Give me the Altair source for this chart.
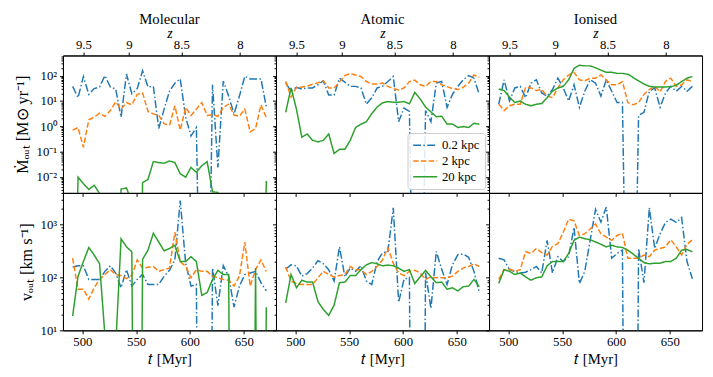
import altair as alt
import pandas as pd

FONT = "Liberation Serif"

time_myr = [491, 496, 501, 506, 511, 516, 521, 526, 531, 536, 541, 546, 551, 556, 561, 566,
            571, 576, 581, 586, 591, 596, 601, 606, 611, 616, 621, 626, 631, 636, 641, 646,
            651, 656, 661, 666, 671]

SERIES = ["0.2 kpc", "2 kpc", "20 kpc"]
PHASES = ["Molecular", "Atomic", "Ionised"]
COLORS = ["#1f77b4", "#ff7f0e", "#2ca02c"]
DASHES = [[8, 2.4, 1.5, 2.4], [5.5, 2.4], [1, 0]]

# mass outflow rates [Msun/yr]  (0 = no outflow, drawn off the log axis)
mdot_mol_02 = [38, 13.6, 93, 18.3, 31, 36, 101, 36, 30, 2.3, 117, 19.4, 31, 157, 36, 38, 0.82, 4.8, 24.5, 51, 75, 2.3, 0.42, 0.9, 0, 0, 44, 0.024, 61, 15.7, 3.1, 15.7, 95, 75, 75, 75, 5.8]
mdot_mol_2 = [0.71, 0.90, 0.149, 1.83, 2.3, 3.3, 2.5, 4.2, 9.3, 4.8, 8.7, 7.1, 18.3, 21, 3.9, 3.1, 2.7, 1.28, 1.1, 6.5, 0.71, 5.6, 2.7, 4.8, 8.7, 2.7, 2.9, 2.5, 5.6, 7.5, 2.8, 2.5, 4.8, 0.61, 0.82, 7.1, 2.2]
mdot_mol_20 = [0, 0.0098, 0.00545, 0.0032, 0.0047, 0.00224, 0, 0, 0, 0.0033, 0.0037, 0.001, 0, 0.0059, 0.008, 0.0406, 0.037, 0.035, 0.043, 0.037, 0.0132, 0.0098, 0.0238, 0.0153, 0.0276, 0.0406, 0.0026, 0.00245, 0, 0, 0, 0, 0, 0, 0, 0, 0.0069]

mdot_atom_02 = [51, 24.5, 35, 30, 33, 33, 44, 63, 17.2, 17.2, 80, 56, 38, 38, 33, 7.5, 13.6, 33, 38, 59, 93, 1.53, 5.3, 3.9, 0, 0, 4.2, 1.53, 51, 59, 5.6, 18.3, 38, 69, 101, 80, 18.3]
mdot_atom_2 = [61, 14.4, 34, 36, 39, 46, 53, 63, 33, 33, 56, 101, 121, 107, 93, 59, 47, 47, 51, 38, 31, 27.6, 33, 59, 67, 44, 38, 59, 59, 44, 37, 31, 28.4, 35, 51, 107, 85]
mdot_atom_20 = [3.6, 33, 4.8, 0.37, 0.5, 0.28, 0.245, 0.28, 0.5, 0.085, 0.124, 0.124, 0.28, 0.9, 1.21, 1.53, 3.2, 5.8, 8.5, 9.5, 9, 9, 9.5, 7.8, 21.8, 12.1, 5.8, 3.7, 2.4, 2.5, 1.24, 1.24, 0.9, 0.98, 0.9, 1.32, 1.21]

mdot_ion_02 = [7.5, 69, 10.1, 33, 38, 13.6, 51, 69, 21, 15.7, 28.4, 80, 33, 10.1, 44, 5.6, 24.5, 69, 51, 15.7, 69, 24.5, 8.7, 8.7, 0, 0, 2.7, 3.6, 24.5, 33, 5.6, 21, 38, 24.5, 38, 24.5, 38]
mdot_ion_2 = [7.5, 4.2, 6.5, 7.5, 7.5, 35, 33, 26, 28.4, 15.7, 13.6, 33, 69, 107, 136, 69, 63, 80, 80, 107, 69, 44, 44, 59, 8.7, 7.1, 8.7, 18.3, 28.4, 38, 23, 59, 80, 38, 44, 69, 59]
mdot_ion_20 = [30, 26, 14.4, 8.7, 10.1, 7.5, 6.5, 7.5, 8, 13.6, 24.5, 33, 38, 69, 194, 260, 245, 245, 206, 167, 136, 136, 124, 124, 114, 85, 63, 47, 38, 36, 36, 36, 37, 42, 59, 80, 93]

# outflow velocities [km/s]
v_mol_02 = [158, 167, 167, 92, 92, 92, 131, 167, 122, 64, 141, 69, 92, 114, 74, 74, 74, 106, 137, 216, 2860, 187, 69, 74, 0, 0, 151, 29.5, 167, 106, 27.5, 69, 114, 122, 131, 80, 56]
v_mol_2 = [232, 60, 60, 39, 64, 92, 114, 141, 114, 109, 95, 109, 216, 151, 156, 162, 131, 141, 151, 721, 201, 162, 99, 141, 131, 131, 106, 99, 92, 89, 69, 106, 471, 69, 141, 216, 131]
v_mol_20 = [18.7, 106, 201, 370, 267, 182, 8, 5, 5, 543, 381, 308, 0, 222, 330, 691, 471, 321, 355, 409, 201, 201, 248, 201, 46, 52, 92, 137, 114, 114, 0, 0, 0, 0, 151, 0, 27.5]

v_atom_02 = [145, 174, 167, 106, 119, 151, 209, 182, 141, 86, 381, 103, 151, 131, 167, 86, 74, 201, 295, 308, 2095, 34, 93, 100, 0, 0, 124, 26, 312, 143, 74, 174, 271, 278, 242, 131, 52]
v_atom_2 = [158, 86, 77, 74, 74, 74, 99, 131, 114, 103, 109, 114, 162, 141, 141, 114, 131, 162, 216, 370, 187, 122, 109, 131, 137, 122, 92, 103, 99, 99, 99, 106, 131, 151, 162, 182, 162]
v_atom_20 = [33, 114, 64, 89, 82, 82, 35, 24.8, 19.2, 30, 80, 82, 109, 109, 141, 174, 192, 182, 167, 172, 167, 151, 131, 141, 77, 103, 137, 103, 80, 82, 60, 64, 56, 67, 69, 92, 67]

v_ion_02 = [232, 216, 141, 131, 122, 126, 141, 162, 122, 506, 122, 248, 201, 248, 893, 77, 131, 506, 1950, 1122, 2160, 232, 286, 330, 0, 0, 355, 80, 2095, 355, 672, 1107, 1274, 1107, 1368, 201, 95]
v_ion_2 = [92, 141, 145, 131, 141, 308, 286, 355, 295, 267, 392, 439, 721, 1274, 1186, 626, 672, 832, 1030, 672, 583, 506, 626, 691, 232, 232, 232, 267, 248, 330, 355, 381, 520, 381, 267, 427, 520]
v_ion_20 = [77, 141, 131, 114, 122, 103, 89, 99, 103, 167, 201, 201, 201, 286, 506, 583, 543, 520, 471, 427, 381, 409, 381, 370, 330, 278, 232, 192, 182, 187, 187, 201, 201, 232, 330, 340, 308]

# redshift ticks of the top axis, placed at their cosmic time [Myr]
z_tick_labels = ["9.5", "9", "8.5", "8"]
z_tick_times = [501, 543.4, 592, 646.5]

t_ticks = [500, 550, 600, 650]

DATA = {
    ("mdot", "Molecular"): [mdot_mol_02, mdot_mol_2, mdot_mol_20],
    ("mdot", "Atomic"): [mdot_atom_02, mdot_atom_2, mdot_atom_20],
    ("mdot", "Ionised"): [mdot_ion_02, mdot_ion_2, mdot_ion_20],
    ("v", "Molecular"): [v_mol_02, v_mol_2, v_mol_20],
    ("v", "Atomic"): [v_atom_02, v_atom_2, v_atom_20],
    ("v", "Ionised"): [v_ion_02, v_ion_2, v_ion_20],
}

Y_DOMAIN = {"mdot": [2.34e-3, 631], "v": [10, 4000]}
Y_TITLE = {"mdot": "Ṁₒᵤₜ [M⊙ yr⁻¹]", "v": "vₒᵤₜ [km s⁻¹]"}
FLOOR = 1e-12  # zero values fall far below the axis and get clipped

W, H = 217, 140
X_DOMAIN = [482, 680]


def log_ticks(lo, hi):
    vals = []
    for k in range(-4, 5):
        for m in range(1, 10):
            v = m * 10.0 ** k
            if lo <= v <= hi:
                vals.append(v)
    return vals


L10 = "(log(datum.value)/LN10)"
IS_MAJOR = f"abs({L10} - round({L10})) < 0.001"
E = f"round({L10})"
SUP = {-3: "⁻³", -2: "⁻²", -1: "⁻¹", 0: "⁰", 1: "¹", 2: "²", 3: "³"}
label_expr = "''"
for k, s in SUP.items():
    label_expr = f"({E} == {k} ? '10{s}' : {label_expr})"
label_expr = f"{IS_MAJOR} ? {label_expr} : ''"

z_expr = "''"
for tv, lab in zip(z_tick_times, z_tick_labels):
    z_expr = f"(abs(datum.value - {tv}) < 0.01 ? '{lab}' : {z_expr})"


def panel(qty, phase, col):
    rows = []
    for name, vals in zip(SERIES, DATA[(qty, phase)]):
        for t, v in zip(time_myr, vals):
            rows.append({"t": t, "val": v if v > 0 else FLOOR, "series": name})
    df = pd.DataFrame(rows)

    xs = alt.Scale(domain=X_DOMAIN, nice=False, zero=False)
    ys = alt.Scale(type="log", domain=Y_DOMAIN[qty], nice=False)
    bottom = qty == "v"

    x_axis = alt.Axis(values=t_ticks, labels=bottom, title="𝑡 [Myr]" if bottom else None,
                      tickSize=3.5, format="d", labelPadding=2, titlePadding=3)
    y_axis = alt.Axis(values=log_ticks(*Y_DOMAIN[qty]), labelExpr=label_expr,
                      labels=(col == 0), title=Y_TITLE[qty] if col == 0 else None,
                      labelOverlap=False, labelFlush=False, labelPadding=3, titlePadding=6,
                      titleFontSize=16.5,
                      tickSize={"condition": {"test": IS_MAJOR, "value": 3.5}, "value": 2})

    show_leg = qty == "mdot" and phase == "Atomic"
    leg = alt.Legend(title=None, orient="bottom-right", offset=4, symbolType="stroke",
                     symbolSize=600, symbolStrokeWidth=1.5, labelFontSize=13, labelFont=FONT,
                     fillColor="rgba(255,255,255,0.85)", strokeColor="#cccccc", cornerRadius=3,
                     padding=5, rowPadding=1, clipHeight=15, labelLimit=0) if show_leg else None

    y_enc = alt.Y("val:Q", scale=ys, axis=y_axis)
    lines = alt.Chart(df).mark_line(clip=True, strokeWidth=1.5).encode(
        x=alt.X("t:Q", scale=xs, axis=x_axis),
        y=y_enc,
        color=alt.Color("series:N", scale=alt.Scale(domain=SERIES, range=COLORS), legend=leg),
        strokeDash=alt.StrokeDash("series:N", scale=alt.Scale(domain=SERIES, range=DASHES), legend=leg),
    )
    if qty == "mdot":
        ztop = alt.Chart(df).mark_point(opacity=0, clip=True).encode(
            x=alt.X("t:Q", scale=xs,
                    axis=alt.Axis(orient="top", values=z_tick_times, labelExpr=z_expr,
                                  title="z", titleFontStyle="italic", titleFontSize=14,
                                  tickSize=3.5, labelPadding=1, titlePadding=-2)),
            y=y_enc,
        )
        ch = alt.layer(lines, ztop).resolve_axis(x="independent").properties(
            title=alt.TitleParams(phase, offset=0))
    else:
        ch = lines
    return ch.properties(width=W, height=H)


panels = [panel(q, p, c) for q in ["mdot", "v"] for c, p in enumerate(PHASES)]

chart = alt.concat(*panels, columns=3, spacing=0, bounds="flush").resolve_scale(
    color="independent", strokeDash="independent"
).properties(
    padding={"left": 6, "top": 0, "right": 2, "bottom": 0}
).configure_view(
    stroke="black", strokeWidth=1
).configure_axis(
    grid=False, domainColor="black", tickColor="black", labelColor="black", titleColor="black",
    labelFont=FONT, titleFont=FONT, labelFontSize=13, titleFontSize=15, titleFontWeight="normal",
    domainWidth=1, tickWidth=1
).configure_title(
    font=FONT, fontSize=15, fontWeight="normal", color="black", anchor="middle"
)

chart.save("out.html", embed_options={"renderer": "svg", "actions": False})
